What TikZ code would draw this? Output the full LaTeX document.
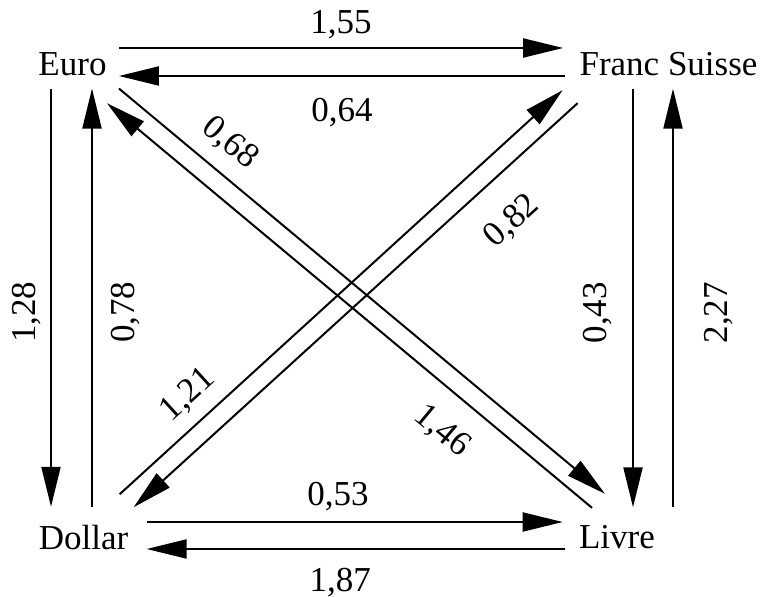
\documentclass[tikz,border=0pt]{standalone}
\usepackage{fontspec}
\setmainfont{Liberation Serif}
\usepackage{tikz}
\usetikzlibrary{arrows.meta,calc}

\begin{document}
\begin{tikzpicture}[x=0.5pt,y=-0.5pt,font=\fontsize{17.5}{21}\selectfont,
  cur/.style={inner sep=6pt},
  arr/.style={line width=1pt,-{Triangle[length=20pt,width=9.5pt]}},
  rarr/.style={line width=1pt,{Triangle[length=20pt,width=9.5pt]}-},
  lbl/.style={inner sep=0pt}]
\useasboundingbox (0,0) rectangle (765,597);
% the four currencies
\node[cur] (euro) at (72.5,64.5) {Euro};
\node[cur] (franc) at (668.5,64.5) {Franc Suisse};
\node[cur] (dollar) at (83.5,537.5) {Dollar};
\node[cur] (livre) at (617,537.5) {Livre};
% top and bottom
\draw[arr] ($(euro.east)+(0,-16.5)$) -- ($(franc.west)+(-4,-16.5)$) node[lbl,midway,above=4pt] {1,55};
\draw[arr] ($(franc.west)+(-2,11.5)$) -- ($(euro.east)+(0,11.5)$) node[lbl,midway,below=10.5pt] {0,64};
\draw[arr] ($(dollar.east)+(6,-15.5)$) -- ($(livre.west)+(-4,-15.5)$) node[lbl,pos=.46,above=5pt] {0,53};
\draw[arr] ($(livre.west)+(-2,11.5)$) -- ($(dollar.east)+(6,11.5)$) node[lbl,pos=.537,below=9pt] {1,87};
% left and right (drawn upwards so the labels read bottom to top)
\draw[rarr] ($(euro.south |- dollar.north)+(-21.5,-6)$) -- ($(euro.south)+(-21.5,0)$) node[lbl,pos=.465,sloped,above=4.5pt] {1,28};
\draw[arr] ($(euro.south |- dollar.north)+(19.5,-6)$) -- ($(euro.south)+(19.5,0)$) node[lbl,pos=.465,sloped,below=9pt] {0,78};
\draw[rarr] ($(franc.south |- livre.north)+(-35.5,-6)$) -- ($(franc.south)+(-35.5,0)$) node[lbl,pos=.465,sloped,above=10pt] {0,43};
\draw[arr] ($(franc.south |- livre.north)+(4.5,-6)$) -- ($(franc.south)+(4.5,0)$) node[lbl,pos=.465,sloped,below=15pt] {2,27};
% diagonals
\draw[arr] (euro.south east) -- ($(livre.north)+(-12,-19.5)$) node[lbl,pos=.19,sloped,above=7pt] {0,68};
\draw[arr] ($(livre.north)+(-25,-5.5)$) -- ($(euro.south)+(34.5,14.7)$) node[lbl,pos=.26,sloped,below=11pt] {1,46};
\draw[arr] ($(dollar.north east)+(-21,-18.5)$) -- ($(franc.south west)+(-4.5,1.5)$) node[lbl,pos=.196,sloped,above=6pt] {1,21};
\draw[arr] ($(franc.south west)+(10.5,14.5)$) -- ($(dollar.north east)+(-7,-5.5)$) node[lbl,pos=.213,sloped,below=14pt] {0,82};
\end{tikzpicture}
\end{document}
